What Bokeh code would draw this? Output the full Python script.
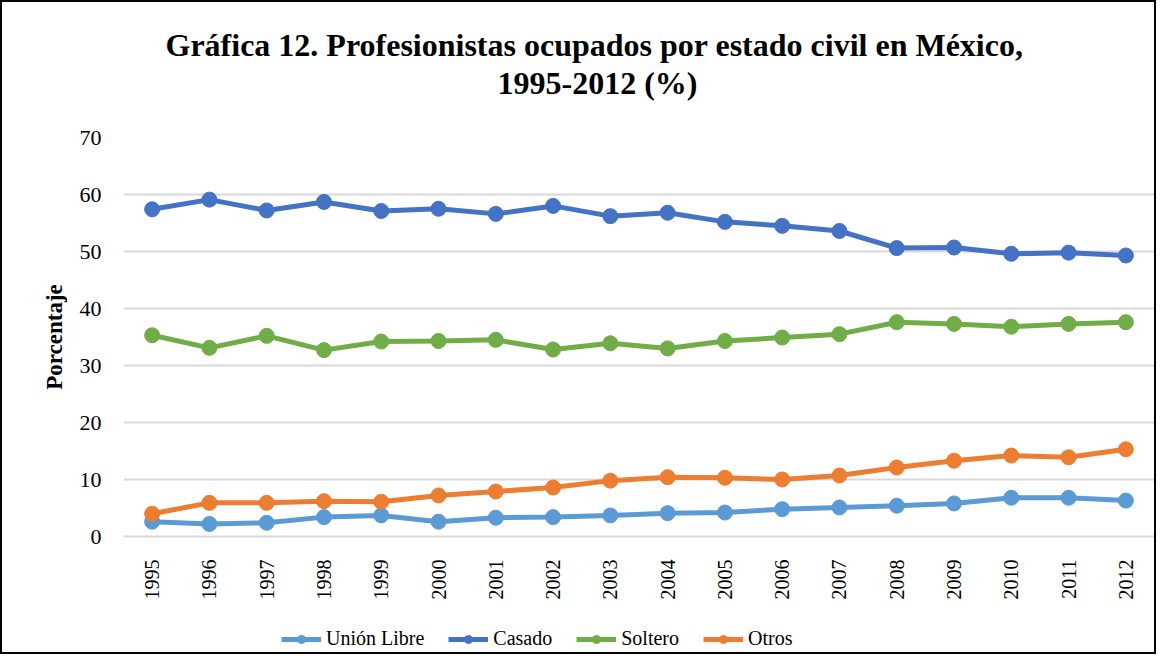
import math
from bokeh.plotting import figure
from bokeh.layouts import column
from bokeh.models import Range1d, FixedTicker, Title, Legend, LegendItem
from bokeh.embed import file_html
from bokeh.resources import INLINE

years = list(range(1995, 2013))
union_libre = [2.6, 2.2, 2.4, 3.4, 3.7, 2.6, 3.3, 3.4, 3.7, 4.1, 4.2, 4.8, 5.1, 5.4, 5.8, 6.8, 6.8, 6.3]
casado = [57.4, 59.1, 57.2, 58.7, 57.1, 57.5, 56.6, 58.0, 56.2, 56.8, 55.2, 54.5, 53.6, 50.6, 50.7, 49.6, 49.8, 49.3]
soltero = [35.3, 33.1, 35.2, 32.7, 34.2, 34.3, 34.5, 32.8, 33.9, 33.0, 34.3, 34.9, 35.5, 37.6, 37.3, 36.8, 37.3, 37.6]
otros = [4.0, 5.9, 5.9, 6.2, 6.1, 7.2, 7.9, 8.6, 9.8, 10.4, 10.3, 10.0, 10.7, 12.1, 13.3, 14.2, 13.9, 15.3]
y_ticks = [0, 10, 20, 30, 40, 50, 60, 70]

series = [
    ("Unión Libre", union_libre, "#5B9BD5"),
    ("Casado", casado, "#4472C4"),
    ("Soltero", soltero, "#70AD47"),
    ("Otros", otros, "#ED7D31"),
]

FONT = "Liberation Serif"

p = figure(width=1152, height=600, output_backend="svg", toolbar_location=None,
           x_range=Range1d(1994.5, 2012.5), y_range=Range1d(0, 70),
           min_border_left=121, min_border_right=0, min_border_top=135, min_border_bottom=65)
p.outline_line_color = None
p.background_fill_color = "white"
p.border_fill_color = "white"

# titles: spacer closest to the plot, then line 2, then line 1
p.add_layout(Title(text=" ", text_font_size="1px", standoff=34), "above")
t2 = Title(text="1995-2012 (%)", align="left", offset=374, text_font=FONT,
           text_font_size="32px", text_font_style="bold", text_color="black", standoff=0)
t1 = Title(text="Gráfica 12. Profesionistas ocupados por estado civil en México,", align="left",
           offset=42, text_font=FONT, text_font_size="32px", text_font_style="bold",
           text_color="black", standoff=0)
p.add_layout(t2, "above")
p.add_layout(t1, "above")

# axes
p.xaxis.ticker = FixedTicker(ticks=years)
p.xaxis.major_label_orientation = math.pi / 2
p.xaxis.major_label_text_font = FONT
p.xaxis.major_label_text_font_size = "20px"
p.xaxis.major_label_text_color = "black"
p.xaxis.major_label_standoff = 17
p.xaxis.axis_line_color = "#D9D9D9"
p.xaxis.axis_line_width = 2
p.xaxis.major_tick_line_color = None
p.xaxis.minor_tick_line_color = None

p.yaxis.ticker = FixedTicker(ticks=y_ticks)
p.yaxis.major_label_text_font = FONT
p.yaxis.major_label_text_font_size = "22px"
p.yaxis.major_label_text_color = "black"
p.yaxis.major_label_standoff = 16
p.yaxis.axis_line_color = None
p.yaxis.major_tick_line_color = None
p.yaxis.minor_tick_line_color = None
p.yaxis.axis_label = "Porcentaje"
p.yaxis.axis_label_text_font = FONT
p.yaxis.axis_label_text_font_size = "23px"
p.yaxis.axis_label_text_font_style = "bold"
p.yaxis.axis_label_text_color = "black"
p.yaxis.axis_label_standoff = 10

p.xgrid.grid_line_color = None
p.ygrid.grid_line_color = "#D9D9D9"
p.ygrid.grid_line_width = 2

for name, vals, color in series:
    p.line(years, vals, line_color=color, line_width=5)
    p.scatter(years, vals, marker="circle", size=15, fill_color=color, line_color=color)

# legend strip: its own small figure underneath, with style proxies kept out of view
lf = figure(width=1152, height=50, output_backend="svg", toolbar_location=None,
            x_range=Range1d(0, 1), y_range=Range1d(0, 1),
            x_axis_location=None, y_axis_location=None,
            min_border_left=0, min_border_right=0, min_border_top=0, min_border_bottom=0)
lf.outline_line_color = None
lf.xgrid.grid_line_color = None
lf.ygrid.grid_line_color = None
lf.background_fill_color = "white"
lf.border_fill_color = "white"

items = []
for name, vals, color in series:
    r1 = lf.line([-5, -4], [-5, -4], line_color=color, line_width=5)
    r2 = lf.scatter([-5], [-5], marker="circle", size=12, fill_color=color, line_color=color)
    items.append(LegendItem(label=name, renderers=[r1, r2]))

legend = Legend(items=items, orientation="horizontal", location=(158, 2),
                label_text_font=FONT, label_text_font_size="20px", label_text_color="black",
                glyph_width=40, glyph_height=20, label_standoff=5, spacing=24,
                border_line_color=None, background_fill_alpha=0, padding=2, margin=0)
lf.add_layout(legend, "center")

layout = column(p, lf, spacing=0)
layout.styles = {"border": "2px solid black"}

open("out.html", "w").write(file_html(layout, INLINE))
